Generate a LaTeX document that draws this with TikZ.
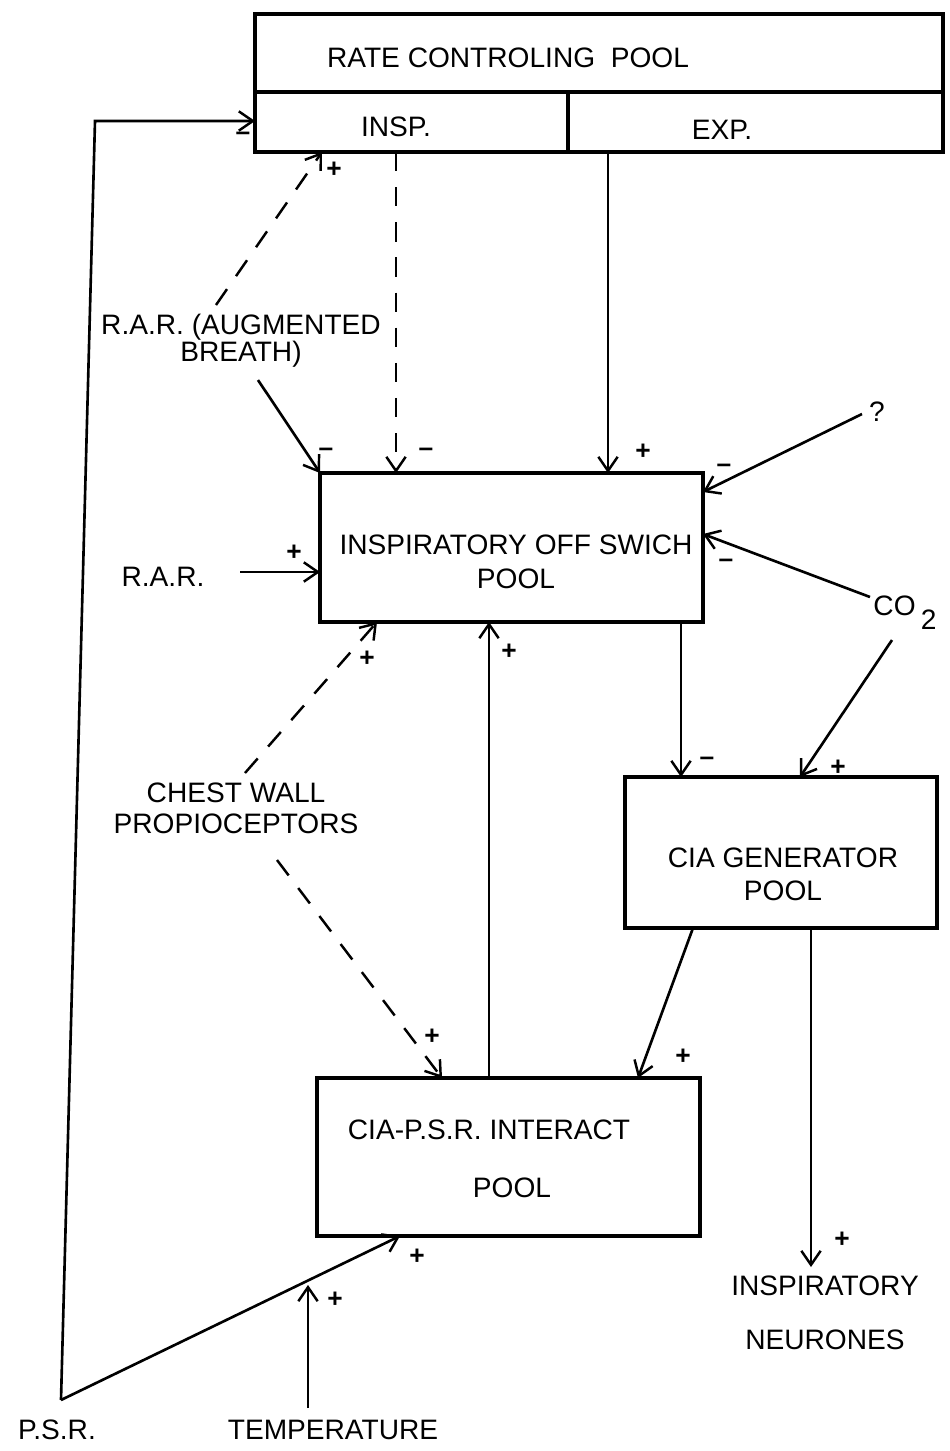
\documentclass[tikz,border=0pt]{standalone}
\usepackage{fontspec}
\setmainfont{Liberation Sans}
\usetikzlibrary{arrows.meta}
\begin{document}
\begin{tikzpicture}[x=0.02cm,y=-0.02cm,
  box/.style={draw, line width=1.8pt, inner sep=0pt, outer sep=0pt},
  txt/.style={font=\fontsize{16}{19}\selectfont, inner sep=0pt},
  sgn/.style={font=\fontsize{15}{15}\selectfont\bfseries, inner sep=0pt},
  tip/.style={-{Straight Barb[length=8pt,width=11pt,line width=1.4pt]}},
  arr/.style={tip, line width=1.5pt},
  thinarr/.style={tip, line width=1pt},
  dsh/.style={tip, line width=1.4pt, dash pattern=on 11pt off 9pt}]
\useasboundingbox (0,0) rectangle (950,1451);

% boxes
\node[box, minimum width=13.76cm, minimum height=1.56cm] (rate) at (599,53) {};
\node[box, minimum width=6.26cm, minimum height=1.2cm] (insp) at (411.5,122) {};
\node[box, minimum width=7.5cm, minimum height=1.2cm] (exp) at (755.5,122) {};
\node[txt] (trate) at (508,58) {RATE CONTROLING\ \ POOL};
\node[txt] (tinsp) at (396,127) {INSP.};
\node[txt] (texp) at (722,130) {EXP.};

\node[box, minimum width=7.66cm, minimum height=2.98cm] (ios) at (511.5,547.5) {};
\node[txt, align=center] (tios) at (516,562) {INSPIRATORY OFF SWICH\\POOL};

\node[box, minimum width=6.24cm, minimum height=3.02cm] (gen) at (781,852.5) {};
\node[txt, align=center] (tgen) at (783,874) {CIA GENERATOR\\POOL};

\node[box, minimum width=7.66cm, minimum height=3.16cm] (cia) at (508.5,1157) {};
\node[txt] (tcia1) at (489,1130) {CIA-P.S.R. INTERACT};
\node[txt] (tcia2) at (512,1188) {POOL};

% free labels
\node[txt, align=center, font=\fontsize{16}{15.5}\selectfont] (rarab) at (241,341) {R.A.R. (AUGMENTED\\BREATH)};
\node[txt] (rar) at (163,577) {R.A.R.};
\node[txt] (q) at (877,412) {?};
\node[txt] (co2) at (905,613) {CO\hspace{3pt}\raisebox{-8pt}{2}};
\node[txt] (cw1) at (236,793) {CHEST WALL};
\node[txt] (cw2) at (236,824) {PROPIOCEPTORS};
\node[txt, align=center] (neur) at (825,1313) {INSPIRATORY\\[12pt]NEURONES};
\node[txt] (psr) at (57,1430) {P.S.R.};
\node[txt] (temp) at (333,1430) {TEMPERATURE};

% free ends
\coordinate (psrC) at (61,1400);
\coordinate (fbT) at (95,121);
\coordinate (rarupS) at (216,305);
\coordinate (rarabS) at (258,380);
\coordinate (rarS) at (240,572);
\coordinate (qS) at (862,414);
\coordinate (co2A) at (870,597);
\coordinate (co2B) at (892,640);
\coordinate (cwUp) at (245,773);
\coordinate (cwDn) at (277,860);
\coordinate (neurT) at (811,1267);
\coordinate (tempS) at (308,1408);
\coordinate (tempT) at (308,1285);

% connectors
\draw[arr] (psrC) -- (fbT) -- (insp.west |- fbT);
\draw[dsh] (rarupS) -- (insp.south -| 322,0);
\draw[dsh] (insp.south -| 396,0) -- (ios.north -| 396,0);
\draw[thinarr] (exp.south -| 608,0) -- (ios.north -| 608,0);
\draw[arr] (rarabS) -- (ios.north west);
\draw[arr] (rarS) -- (ios.west |- 0,572);
\draw[arr] (qS) -- (ios.east |- 0,492);
\draw[arr] (co2A) -- (ios.east |- 0,534);
\draw[arr] (co2B) -- (gen.north -| 800,0);
\draw[thinarr] (ios.south -| 681,0) -- (gen.north -| 681,0);
\draw[dsh] (cwUp) -- (ios.south -| 377,0);
\draw[dsh] (cwDn) -- (cia.north -| 442,0);
\draw[thinarr] (cia.north -| 489,0) -- (ios.south -| 489,0);
\draw[arr] (gen.south -| 693,0) -- (cia.north -| 638,0);
\draw[arr] (gen.south -| 811,0) -- (neurT);
\draw[arr] (psrC) -- (cia.south -| 400,0);
\draw[arr] (tempS) -- (tempT);

% signs
\node[sgn] (s1) at (243,136) {–};
\node[sgn] (s2) at (334,170) {+};
\node[sgn] (s3) at (326,452) {–};
\node[sgn] (s4) at (426,452) {–};
\node[sgn] (s5) at (643,452) {+};
\node[sgn] (s6) at (294,553) {+};
\node[sgn] (s7) at (724,468) {–};
\node[sgn] (s8) at (726,563) {–};
\node[sgn] (s9) at (367,659) {+};
\node[sgn] (s10) at (509,652) {+};
\node[sgn] (s11) at (707,761) {–};
\node[sgn] (s12) at (838,768) {+};
\node[sgn] (s13) at (432,1037) {+};
\node[sgn] (s14) at (683,1057) {+};
\node[sgn] (s15) at (842,1240) {+};
\node[sgn] (s16) at (417,1257) {+};
\node[sgn] (s17) at (335,1300) {+};
\end{tikzpicture}
\end{document}
